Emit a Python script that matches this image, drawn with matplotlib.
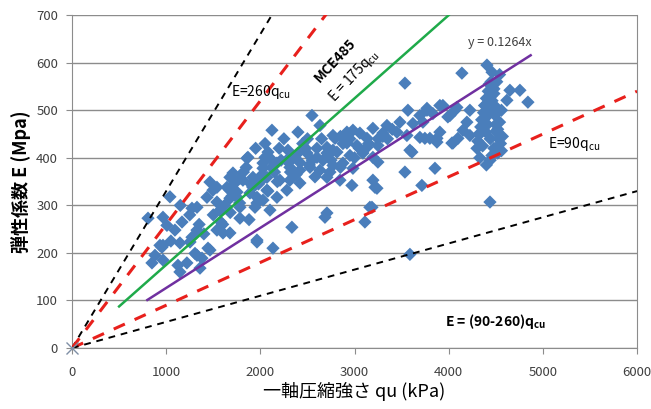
import matplotlib
matplotlib.use("Agg")
from matplotlib import pyplot as plt
import numpy as np

plt.rcParams['font.family'] = ['Noto Sans CJK JP', 'DejaVu Sans']

# measured points: qu (kPa), E (MPa)
qu = [807, 966, 1040, 1008, 955, 1168, 1093, 1327, 966, 849, 966, 1125, 1146, 1274, 1380, 1306, 1444,
      1465, 1327, 1274, 1571, 1539, 1497, 1677, 1677, 1783, 1539, 1603, 1677, 1964, 1943, 1858, 2049,
      1783, 1921, 2028, 1645, 1752, 1964, 934, 1253, 1327, 1465, 1146, 1220, 1359, 1964, 2134, 881,
      2548, 2123, 2399, 2293, 1868, 2081, 2028, 2176, 2495, 2601, 2707, 2771, 2314, 2420, 2527, 2633,
      2739, 1709, 1815, 1921, 2070, 2208, 2314, 2420, 1433, 1539, 1677, 1752, 1890, 1964, 2070, 2176,
      2282, 1783, 2102, 2707, 2633, 2771, 2877, 2028,
      3567, 3769, 3938, 3694, 3832, 4013, 4066, 3482, 3620, 3726, 3344, 3195, 3301, 3450, 3556, 3694,
      3800, 3906, 4034, 3875, 2792, 2919, 2983, 3057, 3132, 2919, 3025, 3132, 3248, 2707, 2813, 2951,
      3089, 3195, 2665, 2771, 2877, 2983, 3248, 3588, 2707, 2845,
      3535, 3854, 2972, 3195, 3238, 3715, 3163, 2686, 2335, 3110, 3185, 3588, 3217, 3609,
      4140, 4406, 4650, 4756, 4841, 4618, 3747, 3875, 4045, 4459, 3769, 3906, 3991, 4087,
      4225, 4193, 4151, 4098, 4225, 4438, 3535,
      4300, 4330, 4360, 4390, 4420, 4450, 4480, 4510, 4540, 4570,
      4310, 4340, 4370, 4400, 4430, 4460, 4490, 4520, 4550,
      4320, 4350, 4380, 4410, 4440, 4470, 4500, 4530, 4560,
      4330, 4360, 4390, 4420, 4450, 4480, 4510, 4540,
      4400, 4440, 4480, 4520, 4560, 4460, 4500,
      1850, 1950, 2050, 2150, 2250, 2350, 2450, 2550, 2650, 2750, 2850, 2950, 3050, 3150, 3250, 3350,
      1900, 2000, 2100, 2200, 2300, 2400, 2500, 2600, 2850, 3000, 3300, 3400,
      1150, 1250, 1400, 1600, 1700, 1050, 1350, 1500,
      1620, 1720, 1820, 1920, 2020, 2120, 2220, 2320, 2420, 2520, 1580, 1680, 1780, 1880, 1980, 2080,
      2180, 2280, 2380, 2480, 2580]
E = [273, 275, 318, 258, 212, 265, 248, 248, 216, 179, 185, 174, 221, 233, 189, 199, 210,
     349, 296, 294, 290, 307, 332, 359, 315, 273, 248, 242, 242, 227, 296, 399, 401,
     357, 338, 311, 338, 328, 317, 216, 223, 195, 206, 160, 179, 168, 223, 210, 195,
     489, 458, 454, 416, 401, 412, 389, 389, 410, 401, 410, 416, 380, 374, 380, 374,
     370, 368, 353, 359, 359, 353, 353, 347, 317, 338, 332, 317, 326, 305, 332, 317,
     332, 296, 290, 284, 468, 447, 430, 378,
     500, 504, 510, 489, 493, 489, 500, 475, 472, 475, 468, 462, 452, 454, 447, 443,
     441, 454, 431, 433, 441, 454, 458, 452, 441, 431, 426, 422, 426, 422, 412, 405,
     410, 401, 395, 384, 389, 378, 391, 416, 359, 353,
     370, 378, 342, 353, 336, 342, 296, 275, 254, 265, 296, 197, 338, 412,
     578, 595, 542, 542, 517, 521, 441, 441, 431, 405, 500, 510, 486, 506,
     500, 475, 458, 441, 447, 307, 557,
     420, 450, 480, 510, 540, 560, 535, 505, 475, 445,
     435, 465, 495, 525, 555, 520, 490, 460, 430,
     450, 480, 510, 470, 440, 500, 470, 440, 415,
     400, 425, 455, 490, 530, 545, 560, 575,
     385, 395, 420, 410, 500, 580, 455,
     380, 420, 430, 370, 440, 400, 430, 395, 440, 395, 445, 440, 420, 430, 440, 440,
     345, 350, 400, 420, 390, 410, 440, 420, 380, 400, 445, 460,
     300, 280, 240, 260, 320, 225, 260, 280,
     300, 345, 370, 340, 365, 380, 395, 370, 390, 385, 265, 285, 305, 270, 345, 330,
     350, 395, 365, 420, 360]

# reference lines
x_line = [0, 6000]
slope_black_hi = 0.33
slope_red_hi = 0.26
slope_red_lo = 0.09
slope_black_lo = 0.055
green_x = [500, 4000]
green_slope = 0.175
fit_x = [800, 4870]
fit_slope = 0.1264

fig = plt.figure(figsize=(6.51, 4.09), dpi=100)
ax = fig.add_axes([0.1106, 0.149, 0.868, 0.814])

ax.set_xlim(0, 6000)
ax.set_ylim(0, 700)
ax.set_yticks(range(0, 701, 100))
ax.set_xticks(range(0, 6001, 1000))
ax.yaxis.grid(True, color='#8c8c8c', lw=1)
ax.set_axisbelow(True)

ax.scatter(qu, E, marker='D', s=46, color='#4a7ebb', edgecolors='none', zorder=2)

xs = np.array(x_line)
ax.plot(xs, slope_black_hi * xs, color='black', ls=(0, (3.5, 3)), lw=1.4, zorder=3)
ax.plot(xs, slope_red_hi * xs, color='#e8201c', ls=(0, (4, 3.5)), lw=2.2, zorder=3)
ax.plot(xs, slope_red_lo * xs, color='#e8201c', ls=(0, (4, 3.5)), lw=2.2, zorder=3)
ax.plot(xs, slope_black_lo * xs, color='black', ls=(0, (3.5, 3)), lw=1.4, zorder=3)
gx = np.array(green_x)
ax.plot(gx, green_slope * gx, color='#1faa4a', lw=1.8, zorder=3)
fx = np.array(fit_x)
ax.plot(fx, fit_slope * fx, color='#7030a0', lw=1.8, zorder=3)
ax.plot([0], [0], marker='x', color='#7f8fa6', ms=8, zorder=4, clip_on=False)

ax.text(1690, 538, r'E=260q$_\mathregular{cu}$', fontsize=10, va='center', ha='left')
ax.text(2800, 605, 'MCE485', fontsize=10, fontweight='bold', rotation=47,
        ha='center', va='center')
ax.text(2990, 572, r'E = 175q$_\mathregular{cu}$', fontsize=10, rotation=47,
        ha='center', va='center')
ax.text(4540, 643, 'y = 0.1264x', fontsize=9, color='#404040', ha='center', va='center')
ax.text(5050, 428, r'E=90q$_\mathregular{cu}$', fontsize=10, va='center', ha='left')
ax.text(3960, 55, r'E = (90-260)q$_\mathregular{cu}$', fontsize=10, fontweight='bold',
        va='center', ha='left')

for s in ['left', 'bottom', 'right']:
    ax.spines[s].set_color('#8c8c8c')
ax.spines['top'].set_visible(False)
ax.tick_params(axis='both', colors='#8c8c8c', labelcolor='#404040', labelsize=9.5, length=4)
ax.tick_params(axis='x', direction='out', pad=9)
ax.tick_params(axis='y', length=4, pad=6)

ax.set_xlabel('一軸圧縮強さ qu (kPa)', fontsize=13, labelpad=2)
ax.set_ylabel('弾性係数 E (Mpa)', fontsize=13, fontweight='bold', labelpad=4)

fig.savefig('out.png', dpi=100)
